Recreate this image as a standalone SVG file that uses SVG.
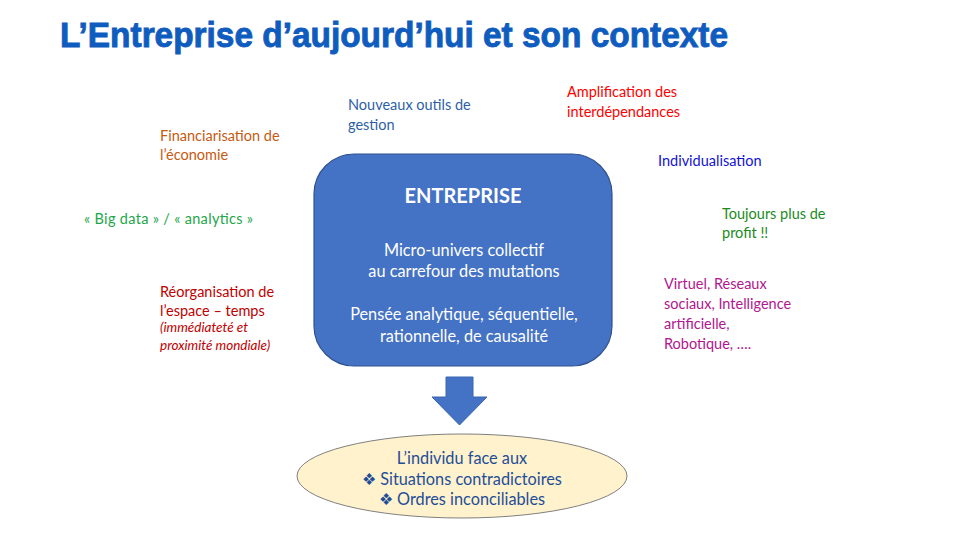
<svg xmlns="http://www.w3.org/2000/svg" width="960" height="540" viewBox="0 0 960 540">
<style>
  text { font-family: Lato, "Open Sans", "Liberation Sans", sans-serif; font-size: 14.5px; }
  .title { font-family: "Liberation Sans", Arial, sans-serif; font-weight: bold; font-size: 35px; fill: #0F5CBF; stroke: #0F5CBF; stroke-width: 0.9; }
  .box { fill: #4472C4; stroke: #2F528F; stroke-width: 1.2; }
  .white { fill: #FFFFFF; font-size: 16.3px; text-anchor: middle; }
  .ell { fill: #FFF2CC; stroke: #7F7F7F; stroke-width: 1; }
  .indiv { fill: #1F4E99; font-size: 16.3px; text-anchor: middle; }
  .fin { fill: #C55A11; }
  .big { fill: #1DA64A; }
  .reo { fill: #C00000; }
  .it { font-style: italic; font-size: 13.5px; }
  .nou { fill: #2E5FA6; }
  .amp { fill: #FF0000; }
  .ind { fill: #1212D6; }
  .tou { fill: #218A1E; }
  .vir { fill: #B0168E; }
</style>
<rect width="960" height="540" fill="#FFFFFF"/>
<text class="title" x="60" y="47" textLength="668" lengthAdjust="spacingAndGlyphs">L’Entreprise d’aujourd’hui et son contexte</text>

<g id="entreprise">
  <rect class="box" x="314" y="154" width="298" height="212" rx="40" ry="40"/>
  <text class="white" x="463" y="203" style="font-weight:bold;font-size:20px">ENTREPRISE</text>
  <text class="white" x="464" y="256">Micro-univers collectif</text>
  <text class="white" x="464" y="277">au carrefour des mutations</text>
  <text class="white" x="464" y="320">Pensée analytique, séquentielle,</text>
  <text class="white" x="464" y="342">rationnelle, de causalité</text>
</g>

<g id="connectors">
  <polygon points="446,377 473,377 473,397 487,397 459.5,425 432,397 446,397" fill="#4472C4" stroke="#3A64B0" stroke-width="1"/>
</g>

<g id="individu">
  <ellipse class="ell" cx="462" cy="476" rx="165" ry="42"/>
  <text class="indiv" x="462" y="464">L’individu face aux</text>
  <text class="indiv" x="462" y="485">❖ Situations contradictoires</text>
  <text class="indiv" x="462" y="505">❖ Ordres inconciliables</text>
</g>

<g id="financiarisation">
  <text class="fin" x="160" y="141">Financiarisation de</text>
  <text class="fin" x="160" y="160">l’économie</text>
</g>
<g id="bigdata">
  <text class="big" x="84" y="224" textLength="169" lengthAdjust="spacing">« Big data » / « analytics »</text>
</g>
<g id="reorganisation">
  <text class="reo" x="160" y="297">Réorganisation de</text>
  <text class="reo" x="160" y="316">l’espace – temps</text>
  <text class="reo it" x="160" y="332">(immédiateté et</text>
  <text class="reo it" x="160" y="350">proximité mondiale)</text>
</g>
<g id="nouveaux">
  <text class="nou" x="348" y="110">Nouveaux outils de</text>
  <text class="nou" x="348" y="130">gestion</text>
</g>
<g id="amplification">
  <text class="amp" x="567" y="97">Amplification des</text>
  <text class="amp" x="567" y="117">interdépendances</text>
</g>
<g id="individualisation">
  <text class="ind" x="658" y="166">Individualisation</text>
</g>
<g id="profit">
  <text class="tou" x="722" y="219">Toujours plus de</text>
  <text class="tou" x="722" y="238">profit !!</text>
</g>
<g id="virtuel">
  <text class="vir" x="664" y="289">Virtuel, Réseaux</text>
  <text class="vir" x="664" y="309">sociaux, Intelligence</text>
  <text class="vir" x="664" y="329">artificielle,</text>
  <text class="vir" x="664" y="349">Robotique, ….</text>
</g>
</svg>
